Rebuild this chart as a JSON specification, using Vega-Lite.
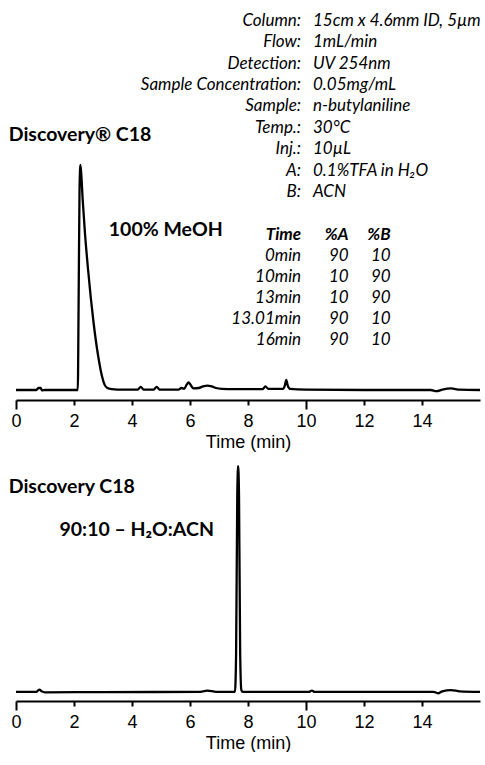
{
  "$schema": "https://vega.github.io/schema/vega-lite/v6.json",
  "padding": {"left": 8, "top": 0, "right": 6, "bottom": 0},
  "spacing": 10,
  "background": "white",
  "config": {
    "view": {"stroke": null},
    "axisX": {
      "domainColor": "black", "domainWidth": 2, "tickColor": "black", "tickWidth": 2,
      "labelFont": "Liberation Sans", "labelFontSize": 18, "labelColor": "black", "labelFlush": false,
      "titleFont": "Liberation Sans", "titleFontSize": 18, "titleFontWeight": "normal", "titleColor": "black", "titlePadding": 3,
      "grid": false
    }
  },
  "datasets": {
    "top": [
      {"t": 0, "v": 2.5}, {"t": 0.7, "v": 2.5}, {"t": 0.78, "v": 3.0}, {"t": 0.85, "v": 3.0}, {"t": 0.9, "v": 2.4},
      {"t": 1.0, "v": 2.5}, {"t": 2.0, "v": 2.5}, {"t": 2.13, "v": 2.5}, {"t": 2.16, "v": 25}, {"t": 2.19, "v": 52},
      {"t": 2.22, "v": 58.75}, {"t": 2.25, "v": 56.5}, {"t": 2.3, "v": 50}, {"t": 2.38, "v": 41.5}, {"t": 2.48, "v": 33},
      {"t": 2.58, "v": 25.5}, {"t": 2.68, "v": 19}, {"t": 2.78, "v": 13.5}, {"t": 2.88, "v": 9}, {"t": 2.97, "v": 5.8},
      {"t": 3.05, "v": 3.9}, {"t": 3.15, "v": 3.0}, {"t": 3.3, "v": 2.7}, {"t": 3.5, "v": 2.6}, {"t": 4.2, "v": 2.6},
      {"t": 4.3, "v": 3.3}, {"t": 4.4, "v": 2.6}, {"t": 4.75, "v": 2.6}, {"t": 4.85, "v": 3.3}, {"t": 4.95, "v": 2.6},
      {"t": 5.6, "v": 2.6}, {"t": 5.7, "v": 3.0}, {"t": 5.8, "v": 2.8}, {"t": 5.88, "v": 3.8}, {"t": 5.95, "v": 4.4},
      {"t": 6.02, "v": 3.8}, {"t": 6.12, "v": 2.9}, {"t": 6.3, "v": 3.0}, {"t": 6.45, "v": 3.4}, {"t": 6.6, "v": 3.6},
      {"t": 6.75, "v": 3.4}, {"t": 6.9, "v": 3.0}, {"t": 7.1, "v": 2.8}, {"t": 7.5, "v": 2.7}, {"t": 8.5, "v": 2.7},
      {"t": 8.6, "v": 3.4}, {"t": 8.7, "v": 2.8}, {"t": 9.2, "v": 2.8}, {"t": 9.27, "v": 3.6}, {"t": 9.32, "v": 5.0},
      {"t": 9.37, "v": 3.6}, {"t": 9.45, "v": 2.8}, {"t": 10, "v": 2.6}, {"t": 12, "v": 2.5}, {"t": 14.3, "v": 2.5},
      {"t": 14.5, "v": 2.2}, {"t": 14.7, "v": 2.6}, {"t": 15.0, "v": 2.9}, {"t": 15.3, "v": 2.6}, {"t": 16, "v": 2.5}
    ],
    "bottom": [
      {"t": 0, "v": 3.8}, {"t": 0.7, "v": 3.8}, {"t": 0.8, "v": 4.8}, {"t": 0.9, "v": 3.95}, {"t": 1.0, "v": 3.65},
      {"t": 3, "v": 3.75}, {"t": 6.3, "v": 3.8}, {"t": 6.6, "v": 4.35}, {"t": 6.9, "v": 3.85}, {"t": 7.55, "v": 3.8},
      {"t": 7.59, "v": 20}, {"t": 7.63, "v": 86}, {"t": 7.66, "v": 98.3}, {"t": 7.69, "v": 86}, {"t": 7.73, "v": 20},
      {"t": 7.77, "v": 4.6}, {"t": 7.82, "v": 3.8}, {"t": 10.1, "v": 3.8}, {"t": 10.2, "v": 4.35}, {"t": 10.3, "v": 3.8},
      {"t": 14.4, "v": 3.8}, {"t": 14.55, "v": 3.25}, {"t": 14.7, "v": 4.05}, {"t": 15.0, "v": 4.55}, {"t": 15.3, "v": 4.05},
      {"t": 16, "v": 3.8}
    ],
    "info": [
      {"label": "Column:", "value": "15cm x 4.6mm ID, 5µm", "v": 94.8},
      {"label": "Flow:", "value": "1mL/min", "v": 89.45},
      {"label": "Detection:", "value": "UV 254nm", "v": 84.1},
      {"label": "Sample Concentration:", "value": "0.05mg/mL", "v": 78.75},
      {"label": "Sample:", "value": "n-butylaniline", "v": 73.4},
      {"label": "Temp.:", "value": "30°C", "v": 68.05},
      {"label": "Inj.:", "value": "10µL", "v": 62.7},
      {"label": "A:", "value": "0.1%TFA in H₂O", "v": 57.35},
      {"label": "B:", "value": "ACN", "v": 52.0}
    ],
    "gradient": [
      {"time": "0min", "a": "90", "b": "10", "v": 36.0},
      {"time": "10min", "a": "10", "b": "90", "v": 30.75},
      {"time": "13min", "a": "10", "b": "90", "v": 25.5},
      {"time": "13.01min", "a": "90", "b": "10", "v": 20.25},
      {"time": "16min", "a": "90", "b": "10", "v": 15.0}
    ],
    "header": [
      {"time": "Time", "a": "%A", "b": "%B", "v": 41.25}
    ],
    "topLabels": [
      {"text": "Discovery® C18", "t": -0.25, "v": 66.25},
      {"text": "100% MeOH", "t": 3.2, "v": 42.5}
    ],
    "bottomLabels": [
      {"text": "Discovery C18", "t": -0.25, "v": 89.5},
      {"text": "90:10 – H₂O:ACN", "t": 1.5, "v": 71.4}
    ]
  },
  "vconcat": [
    {
      "width": 464,
      "height": 400,
      "layer": [
        {
          "data": {"name": "top"},
          "mark": {"type": "line", "color": "black", "strokeWidth": 2.3, "interpolate": "monotone"},
          "encoding": {
            "x": {"field": "t", "type": "quantitative", "scale": {"domain": [0, 16], "nice": false},
              "axis": {"title": "Time (min)", "values": [0,1,2,3,4,5,6,7,8,9,10,11,12,13,14,15],
                "labelExpr": "datum.value % 2 === 0 ? datum.label : ''",
                "tickSize": {"condition": {"test": "datum.value % 10 === 0", "value": 9}, "value": 5},
                "labelPadding": {"condition": {"test": "datum.value % 10 === 0", "value": 3}, "value": 7}}},
            "y": {"field": "v", "type": "quantitative", "scale": {"domain": [0, 100], "nice": false}, "axis": null}
          }
        },
        {
          "data": {"name": "info"},
          "mark": {"type": "text", "align": "right", "baseline": "middle", "font": "Lato", "fontStyle": "italic", "fontSize": 17, "color": "black"},
          "encoding": {
            "x": {"datum": 9.83, "type": "quantitative"},
            "y": {"field": "v", "type": "quantitative"},
            "text": {"field": "label"}
          }
        },
        {
          "data": {"name": "info"},
          "mark": {"type": "text", "align": "left", "baseline": "middle", "font": "Lato", "fontStyle": "italic", "fontSize": 17, "color": "black"},
          "encoding": {
            "x": {"datum": 10.24, "type": "quantitative"},
            "y": {"field": "v", "type": "quantitative"},
            "text": {"field": "value"}
          }
        },
        {
          "data": {"name": "header"},
          "mark": {"type": "text", "align": "right", "baseline": "middle", "font": "Lato", "fontStyle": "italic", "fontWeight": "bold", "fontSize": 17, "color": "black"},
          "encoding": {"x": {"datum": 9.83, "type": "quantitative"}, "y": {"field": "v", "type": "quantitative"}, "text": {"field": "time"}}
        },
        {
          "data": {"name": "header"},
          "mark": {"type": "text", "align": "right", "baseline": "middle", "font": "Lato", "fontStyle": "italic", "fontWeight": "bold", "fontSize": 17, "color": "black"},
          "encoding": {"x": {"datum": 11.47, "type": "quantitative"}, "y": {"field": "v", "type": "quantitative"}, "text": {"field": "a"}}
        },
        {
          "data": {"name": "header"},
          "mark": {"type": "text", "align": "right", "baseline": "middle", "font": "Lato", "fontStyle": "italic", "fontWeight": "bold", "fontSize": 17, "color": "black"},
          "encoding": {"x": {"datum": 12.92, "type": "quantitative"}, "y": {"field": "v", "type": "quantitative"}, "text": {"field": "b"}}
        },
        {
          "data": {"name": "gradient"},
          "mark": {"type": "text", "align": "right", "baseline": "middle", "font": "Lato", "fontStyle": "italic", "fontSize": 17, "color": "black"},
          "encoding": {"x": {"datum": 9.83, "type": "quantitative"}, "y": {"field": "v", "type": "quantitative"}, "text": {"field": "time"}}
        },
        {
          "data": {"name": "gradient"},
          "mark": {"type": "text", "align": "right", "baseline": "middle", "font": "Lato", "fontStyle": "italic", "fontSize": 17, "color": "black"},
          "encoding": {"x": {"datum": 11.47, "type": "quantitative"}, "y": {"field": "v", "type": "quantitative"}, "text": {"field": "a"}}
        },
        {
          "data": {"name": "gradient"},
          "mark": {"type": "text", "align": "right", "baseline": "middle", "font": "Lato", "fontStyle": "italic", "fontSize": 17, "color": "black"},
          "encoding": {"x": {"datum": 12.92, "type": "quantitative"}, "y": {"field": "v", "type": "quantitative"}, "text": {"field": "b"}}
        },
        {
          "data": {"name": "topLabels"},
          "mark": {"type": "text", "align": "left", "baseline": "middle", "font": "Lato", "fontWeight": "bold", "fontSize": 19.5, "color": "black"},
          "encoding": {"x": {"field": "t", "type": "quantitative"}, "y": {"field": "v", "type": "quantitative"}, "text": {"field": "text"}}
        }
      ]
    },
    {
      "width": 464,
      "height": 239,
      "layer": [
        {
          "data": {"name": "bottom"},
          "mark": {"type": "line", "color": "black", "strokeWidth": 2.3, "interpolate": "monotone"},
          "encoding": {
            "x": {"field": "t", "type": "quantitative", "scale": {"domain": [0, 16], "nice": false},
              "axis": {"title": "Time (min)", "values": [0,1,2,3,4,5,6,7,8,9,10,11,12,13,14,15],
                "labelExpr": "datum.value % 2 === 0 ? datum.label : ''",
                "tickSize": {"condition": {"test": "datum.value % 10 === 0", "value": 9}, "value": 5},
                "labelPadding": {"condition": {"test": "datum.value % 10 === 0", "value": 3}, "value": 7}}},
            "y": {"field": "v", "type": "quantitative", "scale": {"domain": [0, 100], "nice": false}, "axis": null}
          }
        },
        {
          "data": {"name": "bottomLabels"},
          "mark": {"type": "text", "align": "left", "baseline": "middle", "font": "Lato", "fontWeight": "bold", "fontSize": 19.5, "color": "black"},
          "encoding": {"x": {"field": "t", "type": "quantitative"}, "y": {"field": "v", "type": "quantitative"}, "text": {"field": "text"}}
        }
      ]
    }
  ]
}
